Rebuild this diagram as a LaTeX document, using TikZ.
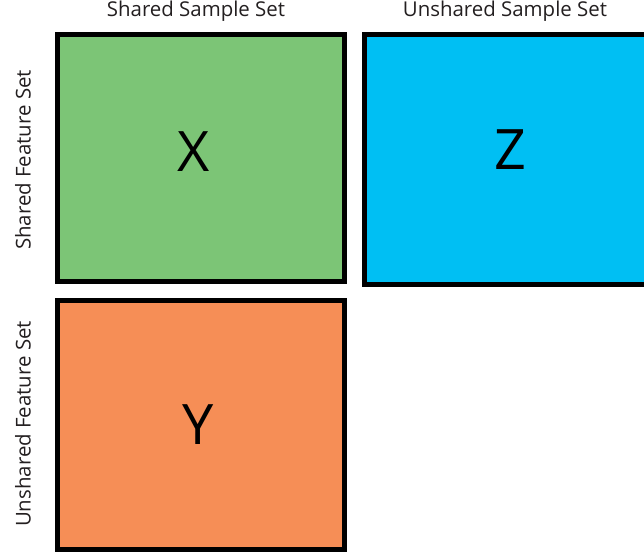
\documentclass[tikz,border=0pt]{standalone}
\usepackage{fontspec}
\setmainfont{Open Sans}
\definecolor{boxgreen}{HTML}{7CC576}
\definecolor{boxblue}{HTML}{00BFF3}
\definecolor{boxorange}{HTML}{F68E56}
\definecolor{labelgray}{HTML}{231F20}
\begin{document}
\begin{tikzpicture}[x=1bp,y=-1bp,
  setbox/.style={draw=black, line width=5bp, inner sep=0pt, outer sep=0pt, anchor=north west},
  header/.style={font=\fontsize{20.5}{24}\selectfont, text=labelgray, inner sep=0pt},
  letter/.style={font=\fontsize{56}{62}\selectfont, text=black, inner sep=0pt}]
  \useasboundingbox (0,0) rectangle (644,556);
  \clip (0,0) rectangle (644,556);
  % the three data blocks
  \node[setbox, fill=boxgreen, minimum width=287bp, minimum height=247bp] (x) at (57.5,34.5) {};
  \node[setbox, fill=boxblue, minimum width=300bp, minimum height=250bp] (z) at (364.5,34.5) {};
  \node[setbox, fill=boxorange, minimum width=287bp, minimum height=249bp] (y) at (57.5,300.5) {};
  % block letters
  \node[letter] (xl) at (194,152) {X};
  \node[letter] (zl) at (510.5,150) {Z};
  \node[letter] (yl) at (198,425) {Y};
  % axis headings
  \node[header] (ss) at (196,11) {Shared Sample Set};
  \node[header] (us) at (505,11) {Unshared Sample Set};
  \node[header, rotate=90] (sf) at (23,160) {Shared Feature Set};
  \node[header, rotate=90] (uf) at (23,424) {Unshared Feature Set};
\end{tikzpicture}
\end{document}
